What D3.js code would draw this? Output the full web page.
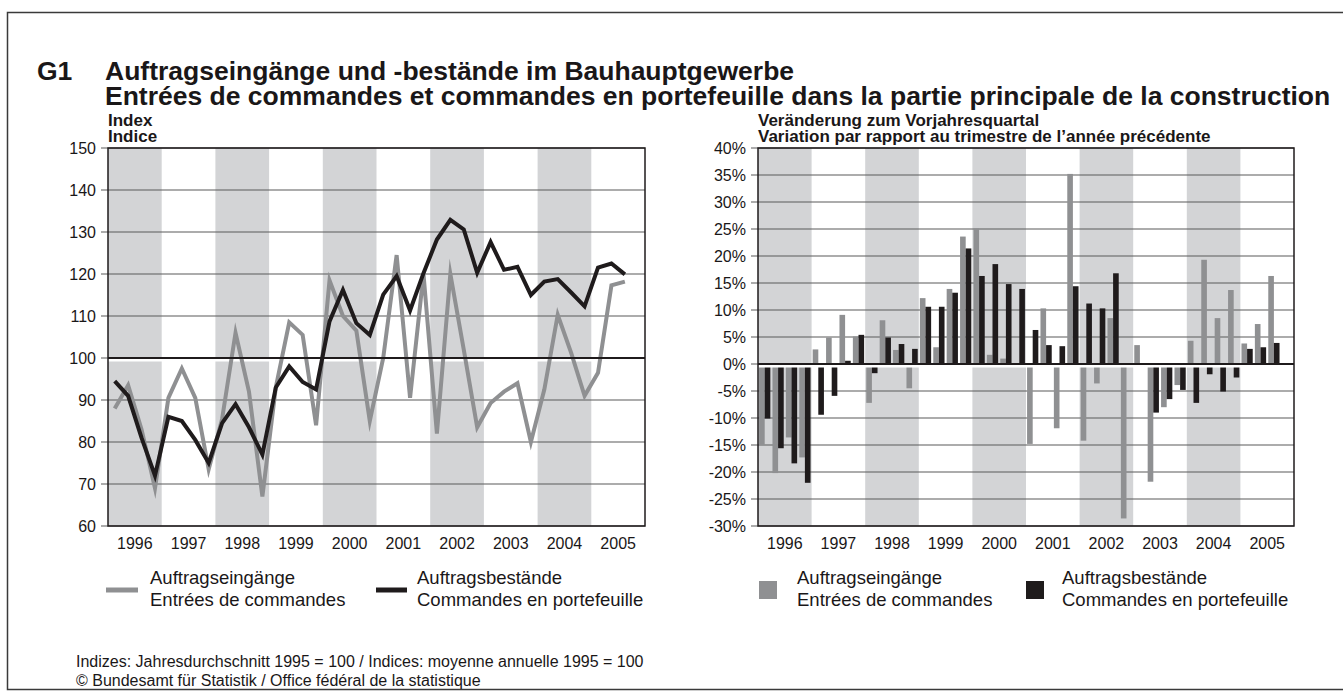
<!DOCTYPE html>
<html lang="de">
<head>
<meta charset="UTF-8">
<title>Auftragseingänge und -bestände im Bauhauptgewerbe</title>
<script src="https://d3js.org/d3.v7.min.js"></script>
<style>
    body { margin: 0; background: #fff; }
    svg text { font-family: "Liberation Sans", Arial, Helvetica, sans-serif; fill: #1a1718; }
    .bold { font-weight: bold; }
</style>
</head>
<body>
<div id="chart"></div>
<script>
// quarters 1996 Q1 .. 2005 Q3
var years = ["1996", "1997", "1998", "1999", "2000", "2001", "2002", "2003", "2004", "2005"];
var quarters = years.flatMap(function(y) { return ["Q1", "Q2", "Q3", "Q4"].map(function(q) { return y + q; }); });

// Index (1995 = 100)
var eingaengeIndex = [88, 93.5, 83, 69, 90.5, 97.5, 90.5, 73.5, 85.5, 106, 92, 67,
                      93, 108.5, 105.5, 84, 118.5, 110, 106.5, 85, 100, 124.5, 90.5, 120,
                      82, 120, 102, 83.5, 89.3, 92, 94, 80, 92.5, 110.3, 101.2, 91,
                      96.5, 117.3, 118.2];
var bestaendeIndex = [94.5, 91, 81, 72, 86, 85, 80.5, 75, 84.5, 89, 83.5, 77,
                      93, 98, 94.3, 92.5, 108.7, 116.2, 108.3, 105.5, 115.1, 119.5, 111.3, 120.2,
                      128.2, 132.9, 130.6, 120.3, 127.6, 121, 121.7, 115, 118.2, 118.8, 115.6, 112.3,
                      121.5, 122.5, 119.9];

// Veränderung zum Vorjahresquartal in %
var eingaengeVar = [-15.0, -20.2, -13.6, -17.3, 2.7, 4.9, 9.1, 5.1, -7.2, 8.1, 2.6, -4.5,
                    12.2, 3.1, 13.9, 23.6, 25.1, 1.7, 1.0, 0, -14.8, 10.3, -11.9, 35.2,
                    -14.2, -3.6, 8.5, -28.6, 3.5, -21.8, -8.0, -3.9, 4.3, 19.3, 8.5, 13.7,
                    3.8, 7.4, 16.3];
var bestaendeVar = [-10.1, -15.6, -18.4, -22.0, -9.4, -5.9, 0.6, 5.4, -1.7, 4.9, 3.7, 2.8,
                    10.6, 10.6, 13.2, 21.4, 16.3, 18.5, 14.8, 13.9, 6.3, 3.5, 3.3, 14.4,
                    11.2, 10.3, 16.8, 0, -0.4, -9.0, -6.5, -4.8, -7.2, -1.9, -5.1, -2.5,
                    2.8, 3.1, 3.9];

var indexTicks = [60, 70, 80, 90, 100, 110, 120, 130, 140, 150];
var pctTicks = [-30, -25, -20, -15, -10, -5, 0, 5, 10, 15, 20, 25, 30, 35, 40];

var seriesNames = [
    ["Auftragseingänge", "Entrées de commandes"],
    ["Auftragsbestände", "Commandes en portefeuille"]
];

var grey = "#8f9092", black = "#1f1b1c", band = "#d3d4d6", grid = "#5a5a5a";

var W = 1343, H = 699;
var svg = d3.select("#chart").append("svg").attr("width", W).attr("height", H);

// frame
svg.append("rect").attr("x", 7.5).attr("y", 12.5).attr("width", W).attr("height", 677)
    .attr("fill", "none").attr("stroke", "#3a3a3a").attr("stroke-width", 1.5);

// titles
svg.append("text").attr("class", "bold").attr("x", 37).attr("y", 80).style("font-size", "26.5px").text("G1");
svg.append("text").attr("class", "bold").attr("x", 105).attr("y", 80).style("font-size", "26.5px")
    .text("Auftragseingänge und -bestände im Bauhauptgewerbe");
svg.append("text").attr("class", "bold").attr("x", 105).attr("y", 105).style("font-size", "26.5px")
    .text("Entrées de commandes et commandes en portefeuille dans la partie principale de la construction");

var plotTop = 148, plotBottom = 526;

function frame(x0, x1, y, ticks, fmt, sub1, sub2) {
    var g = svg.append("g");
    var yb = d3.scaleBand().domain(years).range([x0, x1]);
    g.selectAll(".band").data(years.filter(function(d, i) { return i % 2 === 0; }))
        .enter().append("rect")
        .attr("x", function(d) { return yb(d); }).attr("y", plotTop)
        .attr("width", yb.bandwidth()).attr("height", plotBottom - plotTop)
        .attr("fill", band);
    g.selectAll(".grid").data(ticks).enter().append("line")
        .attr("x1", x0 - 7).attr("x2", x1)
        .attr("y1", function(d) { return y(d); }).attr("y2", function(d) { return y(d); })
        .attr("stroke", grid).attr("stroke-width", 1.2);
    g.selectAll(".tl").data(ticks).enter().append("text")
        .attr("x", x0 - 12).attr("y", function(d) { return y(d); }).attr("dy", "0.36em")
        .attr("text-anchor", "end").style("font-size", "16px")
        .text(fmt);
    g.selectAll(".yl").data(years).enter().append("text")
        .attr("x", function(d) { return yb(d) + yb.bandwidth() / 2; }).attr("y", 549)
        .attr("text-anchor", "middle").style("font-size", "16px")
        .text(function(d) { return d; });
    svg.append("text").attr("class", "bold").attr("x", x0).attr("y", 126).style("font-size", "17px").text(sub1);
    svg.append("text").attr("class", "bold").attr("x", x0).attr("y", 142).style("font-size", "17px").text(sub2);
    return g;
}

function box(x0, x1, y, baseVal) {
    svg.append("line").attr("x1", x0).attr("x2", x1).attr("y1", y(baseVal)).attr("y2", y(baseVal))
        .attr("stroke", black).attr("stroke-width", 1.8);
    svg.append("rect").attr("x", x0).attr("y", plotTop).attr("width", x1 - x0).attr("height", plotBottom - plotTop)
        .attr("fill", "none").attr("stroke", black).attr("stroke-width", 1.5);
}

// ---- left: index lines ----
var lx0 = 108, lx1 = 645;
var yL = d3.scaleLinear().domain([60, 150]).range([plotBottom, plotTop]);
var xL = d3.scaleBand().domain(quarters).range([lx0, lx1]);
frame(lx0, lx1, yL, indexTicks, function(d) { return d; }, "Index", "Indice");
// white gap below the 100 line
svg.append("rect").attr("x", lx0).attr("y", yL(100) + 1).attr("width", lx1 - lx0).attr("height", 2.5).attr("fill", "#fff");

var line = d3.line()
    .x(function(d, i) { return xL(quarters[i]) + xL.bandwidth() / 2; })
    .y(function(d) { return yL(d); });

svg.append("path").datum(eingaengeIndex).attr("d", line)
    .attr("fill", "none").attr("stroke", grey).attr("stroke-width", 4).attr("stroke-linejoin", "miter").attr("stroke-miterlimit", 8);
svg.append("path").datum(bestaendeIndex).attr("d", line)
    .attr("fill", "none").attr("stroke", black).attr("stroke-width", 4).attr("stroke-linejoin", "miter").attr("stroke-miterlimit", 8);
box(lx0, lx1, yL, 100);

// ---- right: variation bars ----
var rx0 = 758, rx1 = 1294;
var yR = d3.scaleLinear().domain([-30, 40]).range([plotBottom, plotTop]);
var xR = d3.scaleBand().domain(quarters).range([rx0, rx1]).paddingInner(0.16).paddingOuter(0.08);
var xS = d3.scaleBand().domain(["e", "b"]).range([0, xR.bandwidth()]);
frame(rx0, rx1, yR, pctTicks, function(d) { return d + "%"; },
      "Veränderung zum Vorjahresquartal", "Variation par rapport au trimestre de l\u2019année précédente");

var barData = [];
eingaengeVar.forEach(function(v, i) { barData.push({ q: quarters[i], s: "e", v: v }); });
bestaendeVar.forEach(function(v, i) { barData.push({ q: quarters[i], s: "b", v: v }); });

svg.append("g").selectAll("rect").data(barData).enter().append("rect")
    .attr("x", function(d) { return xR(d.q) + xS(d.s); })
    .attr("width", xS.bandwidth())
    .attr("y", function(d) { return yR(Math.max(0, d.v)); })
    .attr("height", function(d) { return Math.abs(yR(d.v) - yR(0)); })
    .attr("fill", function(d) { return d.s === "e" ? grey : black; });
// white gap below the 0 line
svg.append("rect").attr("x", rx0).attr("y", yR(0) + 1).attr("width", rx1 - rx0).attr("height", 2.5).attr("fill", "#fff");
box(rx0, rx1, yR, 0);

// ---- legends ----
function legendText(x, names) {
    svg.append("text").attr("x", x).attr("y", 584).style("font-size", "18.5px").text(names[0]);
    svg.append("text").attr("x", x).attr("y", 606).style("font-size", "18.5px").text(names[1]);
}
svg.append("line").attr("x1", 106).attr("x2", 138).attr("y1", 590).attr("y2", 590).attr("stroke", grey).attr("stroke-width", 5);
legendText(150, seriesNames[0]);
svg.append("line").attr("x1", 376).attr("x2", 407).attr("y1", 590).attr("y2", 590).attr("stroke", black).attr("stroke-width", 5);
legendText(417, seriesNames[1]);

svg.append("rect").attr("x", 759).attr("y", 581).attr("width", 18).attr("height", 18).attr("fill", grey);
legendText(797, seriesNames[0]);
svg.append("rect").attr("x", 1026).attr("y", 581).attr("width", 18).attr("height", 18).attr("fill", black);
legendText(1062, seriesNames[1]);

// ---- footnote ----
svg.append("text").attr("x", 76).attr("y", 667).style("font-size", "16px")
    .text("Indizes: Jahresdurchschnitt 1995 = 100 / Indices: moyenne annuelle 1995 = 100");
svg.append("text").attr("x", 76).attr("y", 686).style("font-size", "16px")
    .text("© Bundesamt für Statistik / Office fédéral de la statistique");
</script>
</body>
</html>
